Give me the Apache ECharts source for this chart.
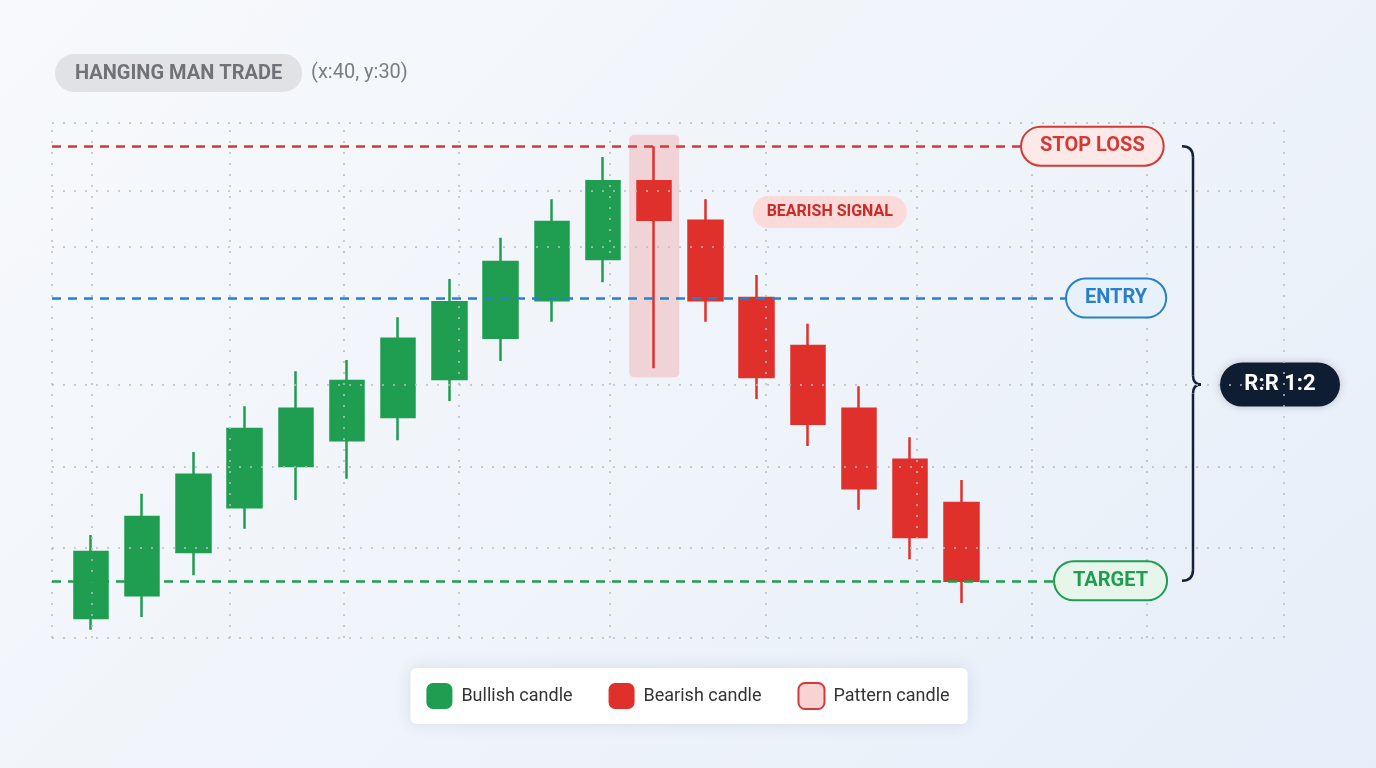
<!DOCTYPE html>
<html>
<head>
<meta charset="utf-8">
<script src="https://cdn.jsdelivr.net/npm/echarts@6/dist/echarts.min.js"></script>
<style>
  html, body { margin: 0; padding: 0; }
  #main { width: 1376px; height: 768px; background: linear-gradient(135deg, #f7f9fc 0%, #eef3fa 60%, #e6eef9 100%); }
</style>
</head>
<body>
<div id="main"></div>
<script>
// [open, close, low, high] on a 0-100 price scale
const candles = [
  [3.9, 16.7, 1.6, 20.0],
  [8.3, 23.5, 4.1, 28.0],
  [16.7, 31.7, 12.2, 36.1],
  [25.4, 40.6, 21.2, 45.0],
  [33.4, 44.5, 26.8, 51.8],
  [38.4, 49.9, 30.9, 54.0],
  [42.9, 58.1, 38.4, 62.3],
  [50.3, 65.2, 46.0, 69.7],
  [58.3, 73.0, 53.8, 77.7],
  [65.6, 80.8, 61.4, 85.2],
  [73.6, 88.7, 69.1, 93.4],
  [88.7, 81.2, 52.4, 95.5],
  [81.0, 65.6, 61.4, 85.2],
  [66.0, 50.7, 46.4, 70.5],
  [56.7, 41.6, 37.3, 61.0],
  [44.5, 29.1, 24.9, 48.9],
  [34.6, 19.6, 15.3, 39.0],
  [26.2, 11.1, 6.8, 30.7]
];
const patternIndex = 11;
const patternBox = [97.7, 50.6];
const stopLoss = 95.5;
const entry = 66.0;
const target = 11.1;
const braceMid = 49.2; // where the brace points to the R:R badge
const levelEnds = [970, 1015, 1003]; // where the dashed lines stop (background x units)
const slotCount = 24;
const gridX = [0, 40, 178, 292, 407, 558, 714, 865, 980, 1095, 1232];
const gridY = [0, 17.5, 33.2, 49.1, 75.9, 86.8, 100];

const red = '#e0302c', green = '#1f9d50', blue = '#2a7fc9';
const categories = Array.from({ length: slotCount }, (_, i) => String(i));

const chart = echarts.init(document.getElementById('main'));

function levelLine(y, text, color, bg) {
  return {
    coord: [0, y], lineStyle: { color: color, type: [9, 7], width: 2.5 },
    label: {
      show: true, position: 'end', formatter: text, distance: 0,
      color: color, fontSize: 20, fontWeight: 'bold', fontFamily: 'Roboto',
      backgroundColor: bg, borderColor: color, borderWidth: 2, borderRadius: 20,
      padding: [9, 18, 8, 18]
    }
  };
}

const option = {
  textStyle: { fontFamily: 'Roboto' },
  animation: false,
  title: {
    left: 50, top: 49,
    text: '{a|HANGING MAN TRADE}  {b|(x:40, y:30)}',
    textStyle: {
      rich: {
        a: { backgroundColor: '#e0e2e6', color: '#6f7277', fontSize: 20, fontWeight: 'bold', borderRadius: 20, padding: [10, 20, 8, 20], fontFamily: 'Roboto' },
        b: { color: '#7a7d82', fontSize: 20, fontWeight: 'normal', fontFamily: 'Roboto' }
      }
    }
  },
  grid: [
    { left: 65.4, right: 1376 - 65.4 - slotCount * 51.2, top: 123, bottom: 130 },
    { left: 52, right: 92, top: 123, bottom: 130 }
  ],
  xAxis: [
    { type: 'category', data: categories, gridIndex: 0, show: false, boundaryGap: true },
    { type: 'value', gridIndex: 1, min: 0, max: 1232, show: false }
  ],
  yAxis: [
    { type: 'value', gridIndex: 0, min: 0, max: 100, show: false },
    { type: 'value', gridIndex: 1, min: 0, max: 100, show: false }
  ],
  legend: {
    bottom: 44, left: 'center', itemWidth: 26, itemHeight: 26, itemGap: 36,
    backgroundColor: '#ffffff', borderRadius: 6, padding: [14, 18, 14, 16],
    shadowColor: 'rgba(40,60,100,0.12)', shadowBlur: 16,
    textStyle: { fontSize: 18, color: '#333', fontFamily: 'Roboto', padding: [0, 0, 0, 4] },
    data: [
      { name: 'Bullish candle', icon: 'roundRect' },
      { name: 'Bearish candle', icon: 'roundRect' },
      { name: 'Pattern candle', icon: 'roundRect' }
    ]
  },
  series: [
    {
      type: 'line', xAxisIndex: 1, yAxisIndex: 1, data: [], silent: true,
      markLine: {
        symbol: 'none', silent: true, label: { show: false },
        lineStyle: { color: '#b9bec6', type: [2, 9], width: 1.5 },
        data: gridX.map(x => ({ xAxis: x })).concat(gridY.map(y => ({ yAxis: y })))
      }
    },
    {
      type: 'line', xAxisIndex: 1, yAxisIndex: 1, data: [], silent: true, z: 3,
      markLine: {
        symbol: 'none', silent: true,
        data: [
          [levelLine(stopLoss, 'STOP LOSS', '#d33a36', '#fde9e8'), { coord: [levelEnds[0], stopLoss] }],
          [levelLine(entry, 'ENTRY', blue, '#e7f1fb'), { coord: [levelEnds[1], entry] }],
          [levelLine(target, 'TARGET', green, '#e6f6ea'), { coord: [levelEnds[2], target] }]
        ]
      }
    },
    {
      name: 'Candles', type: 'candlestick', xAxisIndex: 0, yAxisIndex: 0, z: 4,
      barWidth: 34,
      data: candles,
      itemStyle: { color: green, color0: red, borderColor: green, borderColor0: red, borderWidth: 2.5 },
      markPoint: {
        symbol: 'rect', symbolSize: 1, itemStyle: { color: 'rgba(0,0,0,0)' },
        data: [{
          coord: [14, 82.7],
          label: {
            show: true, formatter: 'BEARISH SIGNAL', offset: [22, 0],
            color: '#cf2a27', fontSize: 16, fontWeight: 'bold',
            backgroundColor: '#fbdada', borderRadius: 18, padding: [9, 14, 7, 14]
          }
        }]
      }
    },
    { name: 'Bullish candle', type: 'bar', data: [], itemStyle: { color: green } },
    { name: 'Bearish candle', type: 'bar', data: [], itemStyle: { color: red } },
    { name: 'Pattern candle', type: 'bar', data: [], itemStyle: { color: '#f9d3d3', borderColor: '#d33a36', borderWidth: 2 } }
  ]
};
chart.setOption(option);

// brace linking stop loss to target, with the risk:reward badge
const y1 = chart.convertToPixel({ yAxisIndex: 1 }, stopLoss);
const y2 = chart.convertToPixel({ yAxisIndex: 1 }, target);
const ym = chart.convertToPixel({ yAxisIndex: 1 }, braceMid);
const bx = 1193;
const braceStyle = { stroke: '#14213a', lineWidth: 2.5, fill: 'none' };
function curve(x1, yA, x2, yB, cx, cy) {
  return { type: 'bezierCurve', silent: true, shape: { x1: x1, y1: yA, x2: x2, y2: yB, cpx1: cx, cpy1: cy }, style: braceStyle };
}
// pattern candle highlight box, placed from the candle grid's own scales
const px = chart.convertToPixel({ xAxisIndex: 0 }, patternIndex);
const pTop = chart.convertToPixel({ yAxisIndex: 0 }, patternBox[0]);
const pBot = chart.convertToPixel({ yAxisIndex: 0 }, patternBox[1]);
chart.setOption({
  graphic: [
    {
      type: 'rect', silent: true, z: 1,
      shape: { x: px - 25, y: pTop, width: 50, height: pBot - pTop, r: 5 },
      style: { fill: 'rgba(240,150,150,0.35)' }
    },
    curve(1182, y1, bx, y1 + 11, bx, y1),
    { type: 'line', silent: true, shape: { x1: bx, y1: y1 + 11, x2: bx, y2: ym - 9 }, style: braceStyle },
    curve(bx, ym - 9, bx + 8, ym, bx, ym),
    curve(bx + 8, ym, bx, ym + 9, bx, ym),
    { type: 'line', silent: true, shape: { x1: bx, y1: ym + 9, x2: bx, y2: y2 - 11 }, style: braceStyle },
    curve(bx, y2 - 11, 1182, y2, bx, y2),
    {
      type: 'rect', silent: true,
      shape: { x: 1220, y: ym - 22, width: 120, height: 44, r: 22 },
      style: { fill: '#0f1d33', shadowColor: 'rgba(0,0,0,0.2)', shadowBlur: 8 }
    },
    {
      type: 'text', silent: true, x: 1280, y: ym,
      style: { text: 'R:R 1:2', fill: '#fff', font: 'bold 22px Roboto', textAlign: 'center', textVerticalAlign: 'middle' }
    }
  ]
});
</script>
</body>
</html>
